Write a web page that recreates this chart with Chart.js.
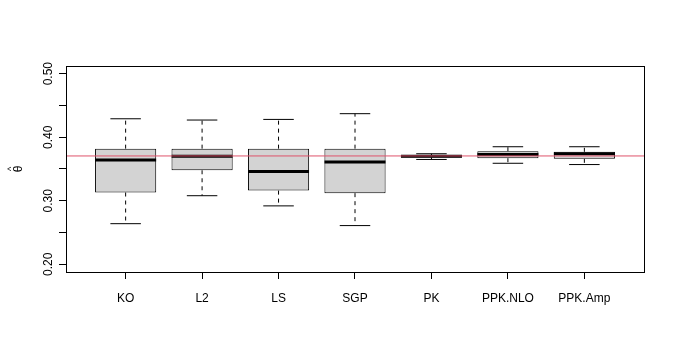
<!DOCTYPE html>
<html>
<head>
<meta charset="utf-8">
<script src="https://cdn.jsdelivr.net/npm/chart.js@4.4.0/dist/chart.umd.min.js"></script>
<style>
  html, body { margin: 0; padding: 0; background: #fff; }
</style>
</head>
<body>
<canvas id="chart" width="678" height="356"></canvas>
<script>
// boxplot summaries per method
const methods = ['KO', 'L2', 'LS', 'SGP', 'PK', 'PPK.NLO', 'PPK.Amp'];
const lowWhisker = [0.264, 0.308, 0.292, 0.261, 0.365, 0.359, 0.357];
const lowerQuart = [0.313, 0.348, 0.316, 0.312, 0.368, 0.367, 0.366];
const medians = [0.364, 0.370, 0.346, 0.361, 0.370, 0.373, 0.374];
const upperQuart = [0.382, 0.382, 0.382, 0.382, 0.372, 0.378, 0.377];
const highWhisker = [0.429, 0.427, 0.428, 0.437, 0.374, 0.385, 0.385];
const trueTheta = 0.3705;

const yTickLabels = [0.20, 0.30, 0.40, 0.50];
const xMin = 0.22, xMax = 7.78;
const yMin = 0.188, yMax = 0.512;

const FONT = '"Liberation Sans", Arial, Helvetica, sans-serif';

const boxes = methods.map((m, i) => ({ x: i + 1, y: [lowerQuart[i], upperQuart[i]] }));
const mids = methods.map((m, i) => ({ x: i + 1, y: medians[i] }));
const whiskers = [];
methods.forEach((m, i) => {
  whiskers.push({ x: i + 1, y: upperQuart[i] }, { x: i + 1, y: highWhisker[i] }, { x: i + 1, y: null });
  whiskers.push({ x: i + 1, y: lowerQuart[i] }, { x: i + 1, y: lowWhisker[i] }, { x: i + 1, y: null });
});
const staples = [];
methods.forEach((m, i) => {
  staples.push({ x: i + 1, y: highWhisker[i] }, { x: i + 1, y: lowWhisker[i] });
});

// frame round the plot, rotated y labels and the theta-hat title, like base R
const framePlugin = {
  id: 'frame',
  afterDraw(chart) {
    const { ctx, chartArea: a, scales } = chart;
    ctx.save();
    ctx.strokeStyle = '#000';
    ctx.lineWidth = 1;
    ctx.strokeRect(Math.round(a.left) + 0.5, Math.round(a.top) + 0.5,
      Math.round(a.right - a.left), Math.round(a.bottom - a.top));
    ctx.fillStyle = '#000';
    ctx.font = '12px ' + FONT;
    ctx.textAlign = 'center';
    ctx.textBaseline = 'alphabetic';
    yTickLabels.forEach(v => {
      const y = scales.y.getPixelForValue(v);
      ctx.save();
      ctx.translate(a.left - 14, y);
      ctx.rotate(-Math.PI / 2);
      ctx.fillText(v.toFixed(2), 0, 0);
      ctx.restore();
    });
    // theta with a hat, centred on the plot height
    ctx.save();
    ctx.translate(22, (a.top + a.bottom) / 2);
    ctx.rotate(-Math.PI / 2);
    ctx.fillText('θ', 0, 0);
    ctx.font = '9px ' + FONT;
    ctx.fillText('^', 0, -8);
    ctx.restore();
    ctx.restore();
  }
};

new Chart(document.getElementById('chart'), {
  type: 'bar',
  data: {
    datasets: [
      {
        type: 'line',
        data: [{ x: xMin, y: trueTheta }, { x: xMax, y: trueTheta }],
        borderColor: '#DF536B',
        borderWidth: 1,
        pointRadius: 0,
        order: 0
      },
      {
        type: 'scatter',
        data: mids,
        pointStyle: 'line',
        pointRadius: 30.5,
        pointBorderWidth: 3,
        pointBorderColor: '#000',
        order: 1
      },
      {
        type: 'scatter',
        data: staples,
        pointStyle: 'line',
        pointRadius: 15.25,
        pointBorderWidth: 1,
        pointBorderColor: '#000',
        order: 2
      },
      {
        type: 'line',
        data: whiskers,
        borderColor: '#000',
        borderWidth: 1,
        borderDash: [4, 4],
        pointRadius: 0,
        spanGaps: false,
        order: 3
      },
      {
        type: 'bar',
        data: boxes,
        backgroundColor: '#D3D3D3',
        borderColor: '#000',
        borderWidth: 1,
        borderSkipped: false,
        barPercentage: 0.8,
        categoryPercentage: 1,
        grouped: false,
        order: 4
      }
    ]
  },
  options: {
    responsive: false,
    animation: false,
    events: [],
    layout: { padding: { top: 66, right: 34, left: 0, bottom: 0 } },
    plugins: { legend: { display: false }, tooltip: { enabled: false } },
    scales: {
      x: {
        type: 'linear',
        min: xMin,
        max: xMax,
        offset: false,
        afterFit: s => { s.height = 84; },
        border: { display: false },
        grid: { offset: false, drawOnChartArea: false, tickLength: 7, color: '#000' },
        ticks: {
          stepSize: 1,
          includeBounds: false,
          autoSkip: false,
          maxRotation: 0,
          padding: 12,
          color: '#000',
          font: { size: 12, family: FONT },
          callback: v => methods[v - 1] || ''
        }
      },
      y: {
        min: yMin,
        max: yMax,
        afterFit: s => { s.width = 66; },
        border: { display: false },
        grid: { drawOnChartArea: false, tickLength: 7, color: '#000' },
        ticks: { stepSize: 0.05, includeBounds: false, display: false }
      }
    }
  },
  plugins: [framePlugin]
});
</script>
</body>
</html>
